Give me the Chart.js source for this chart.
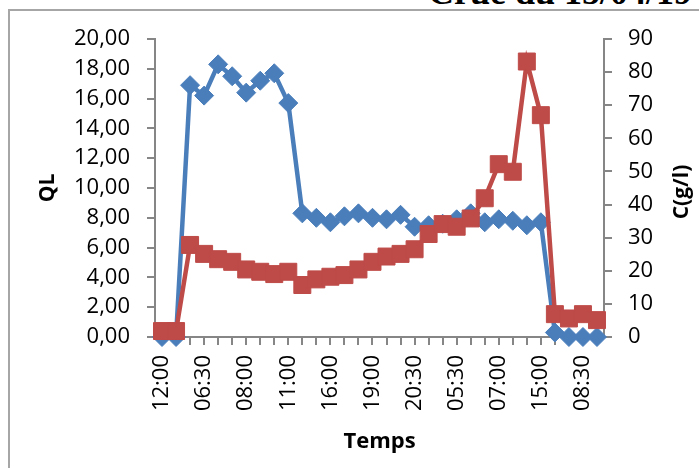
<!DOCTYPE html>
<html>
<head>
<meta charset="utf-8">
<script src="https://cdn.jsdelivr.net/npm/chart.js@4/dist/chart.umd.min.js"></script>
<style>
	body { margin: 0; background: #fff; }
	#wrap { position: relative; width: 699px; height: 468px; overflow: hidden; }
	#frame { position: absolute; left: 8px; top: 9px; width: 720px; height: 480px;
		border-left: 2px solid #a6a6a6; border-top: 2px solid #a6a6a6; }
	#title { position: absolute; left: 428px; top: -26px; font: bold 36px "Liberation Serif", serif;
		line-height: 36px; white-space: nowrap; color: #000; }
	canvas { position: absolute; left: 0; top: 0; }
</style>
</head>
<body>
<div id="wrap">
	<div id="frame"></div>
	<div id="title">Crue du 15/04/19</div>
	<canvas id="crue" width="699" height="468"></canvas>
</div>
<script>
// categories (only every 3rd one is labelled on the axis)
const timeLabels = [
	"12:00", "", "", "06:30", "", "", "08:00", "", "", "11:00", "", "",
	"16:00", "", "", "19:00", "", "", "20:30", "", "", "05:30", "", "",
	"07:00", "", "", "15:00", "", "", "08:30", ""
];
// QL, left axis
const qlValues = [
	0, 0, 16.9, 16.2, 18.3, 17.5, 16.4, 17.2, 17.7, 15.7, 8.3, 8.0,
	7.7, 8.1, 8.3, 8.0, 7.9, 8.2, 7.4, 7.5, 7.6, 7.9, 8.3, 7.7,
	7.9, 7.8, 7.5, 7.7, 0.3, 0, 0, 0
];
// C(g/l), right axis
const cValues = [
	1.8, 1.8, 27.8, 25.1, 23.5, 22.7, 20.4, 19.7, 19.0, 19.7, 15.7, 17.4,
	18.2, 18.7, 20.4, 22.7, 24.3, 25.1, 26.5, 31.1, 34.1, 33.3, 35.8, 41.9,
	52.2, 49.9, 83.2, 67.0, 6.9, 5.6, 6.9, 5.1
];

const axisGray = "#868686";
const fontFamily = "'Open Sans', 'Liberation Sans', sans-serif";

// right axis title reads bottom to top, so draw it by hand
const rightTitle = {
	id: "rightTitle",
	afterDraw(chart) {
		const ctx = chart.ctx;
		ctx.save();
		ctx.translate(682, 192);
		ctx.rotate(-Math.PI / 2);
		ctx.font = "bold 21px " + fontFamily;
		ctx.fillStyle = "#000";
		ctx.textAlign = "center";
		ctx.textBaseline = "middle";
		ctx.fillText("C(g/l)", 0, 0);
		ctx.restore();
	},
};

new Chart(document.getElementById("crue"), {
	type: "line",
	data: {
		labels: timeLabels,
		datasets: [
			{
				label: "QL",
				data: qlValues,
				yAxisID: "y",
				borderColor: "#4A7EBB",
				backgroundColor: "#4A7EBB",
				borderWidth: 4.5,
				pointStyle: "rectRot",
				pointRadius: 9.5,
				pointBorderWidth: 1,
				order: 2,
			},
			{
				label: "C(g/l)",
				data: cValues,
				yAxisID: "y1",
				borderColor: "#BE4B48",
				backgroundColor: "#BE4B48",
				borderWidth: 4.5,
				pointStyle: "rect",
				pointRadius: 12,
				pointBorderWidth: 1,
				order: 1,
			},
		],
	},
	options: {
		responsive: false,
		animation: false,
		clip: false,
		layout: { padding: { left: 35, right: 0, top: 39, bottom: 5 } },
		plugins: {
			legend: { display: false },
			tooltip: { enabled: false },
		},
		scales: {
			x: {
				type: "category",
				offset: true,
				grid: { drawOnChartArea: false, tickLength: 8, color: axisGray, lineWidth: 2 },
				border: { color: axisGray, width: 2 },
				ticks: {
					autoSkip: false,
					maxRotation: 90,
					minRotation: 90,
					padding: 10,
					color: "#000",
					font: { size: 22, family: fontFamily },
				},
				title: {
					display: true,
					text: "Temps",
					color: "#000",
					padding: { top: 0, bottom: 8 },
					font: { size: 22, weight: "bold", family: fontFamily },
				},
				afterFit: (s) => { s.height = 126; },
			},
			y: {
				position: "left",
				min: 0,
				max: 20,
				grid: { drawOnChartArea: false, tickLength: 8, color: axisGray, lineWidth: 2 },
				border: { color: axisGray, width: 2 },
				ticks: {
					stepSize: 2,
					padding: 17,
					color: "#000",
					font: { size: 22, family: fontFamily },
					callback: (v) => v.toFixed(2).replace(".", ","),
				},
				title: {
					display: true,
					text: "QL",
					color: "#000",
					padding: 0,
					font: { size: 21, weight: "bold", family: fontFamily },
				},
				afterFit: (s) => { s.width = 120; },
			},
			y1: {
				position: "right",
				min: 0,
				max: 90,
				grid: { drawOnChartArea: false, tickLength: 8, color: axisGray, lineWidth: 2 },
				border: { color: axisGray, width: 2 },
				ticks: {
					stepSize: 10,
					padding: 16,
					color: "#000",
					font: { size: 22, family: fontFamily },
				},
				afterFit: (s) => { s.width = 95; },
			},
		},
	},
	plugins: [rightTitle],
});
</script>
</body>
</html>
